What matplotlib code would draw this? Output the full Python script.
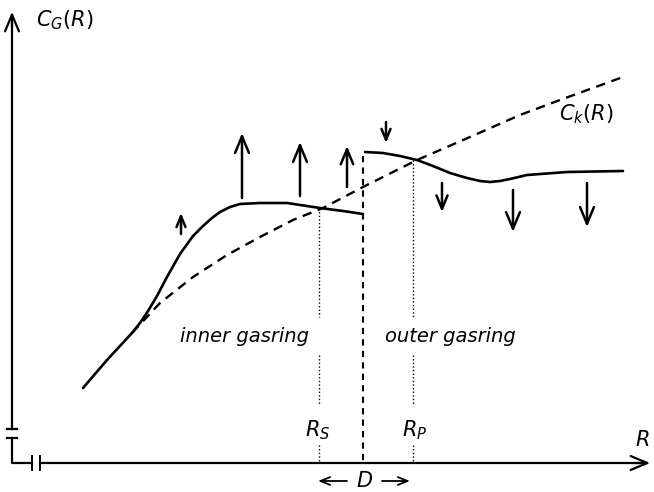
import matplotlib
matplotlib.use("Agg")
from matplotlib import pyplot as plt

plt.rcParams['mathtext.fontset'] = 'dejavusans'

# everything, in pixel units (y grows downwards)
inner_x = [83, 107, 132, 140, 148, 157, 167, 180, 193, 203, 212, 220, 230, 240, 260, 287, 320, 343, 363]
inner_y = [388, 360, 333, 323, 311, 296, 277, 254, 236, 226, 218, 212, 207, 204, 203, 203, 208, 211, 214]

outer_x = [365, 383, 400, 417, 433, 450, 467, 480, 490, 500, 510, 527, 567, 623]
outer_y = [152, 153, 156, 160, 166, 173, 178, 181, 182, 181, 179, 175, 172, 171]

ck_x = [132, 160, 193, 227, 260, 293, 323, 363, 417, 470, 520, 560, 623]
ck_y = [333, 303, 277, 255, 237, 220, 208, 187, 160, 137, 115, 100, 77]

# arrows: x position, tail, tip, size
arrow_x = [181, 242, 300, 347, 386, 442, 513, 587]
arrow_tail = [234, 198, 196, 187, 122, 183, 190, 183]
arrow_tip = [213, 133, 142, 146, 143, 212, 232, 227]
arrow_size = [13, 20, 20, 18, 13, 16, 20, 20]

r_s = 319
r_p = 413
gap_x = 363
x_axis_y = 463
y_axis_x = 12

fig = plt.figure(figsize=(6.54, 4.92), dpi=100)
ax = fig.add_axes([0, 0, 1, 1])
ax.set_xlim(0, 654)
ax.set_ylim(492, 0)
ax.axis('off')

head = '->, head_length=0.6, head_width=0.25'

# axes with breaks
ax.plot([y_axis_x, y_axis_x], [429, 22], color='k', lw=1.6)
ax.annotate('', xy=(y_axis_x, 9), xytext=(y_axis_x, 30),
            arrowprops=dict(arrowstyle=head, lw=1.6, color='k', mutation_scale=20))
ax.plot([7, 17], [429, 429], color='k', lw=1.6)
ax.plot([7, 17], [438, 438], color='k', lw=1.6)
ax.plot([y_axis_x, y_axis_x, 32], [438, x_axis_y, x_axis_y], color='k', lw=1.6)
ax.plot([32, 32], [456, 470], color='k', lw=1.4)
ax.plot([40, 40], [456, 470], color='k', lw=1.4)
ax.plot([40, 640], [x_axis_y, x_axis_y], color='k', lw=1.6)
ax.annotate('', xy=(653, x_axis_y), xytext=(630, x_axis_y),
            arrowprops=dict(arrowstyle=head, lw=1.6, color='k', mutation_scale=20))

# curves
ax.plot(inner_x, inner_y, color='k', lw=1.9, solid_capstyle='round', solid_joinstyle='round')
ax.plot(outer_x, outer_y, color='k', lw=1.9, solid_capstyle='round', solid_joinstyle='round')
ax.plot(ck_x, ck_y, color='k', lw=1.7, dashes=(4, 2.8))
ax.plot([gap_x, gap_x], [outer_y[0] + 4, x_axis_y], color='k', lw=1.5, dashes=(3, 2.5))

# dotted markers for R_s and R_p
for xv, ytop in [(r_s, 208), (r_p, 160)]:
    ax.plot([xv, xv], [ytop, 317], color='k', lw=1.0, ls=(0, (1, 1.6)))
    ax.plot([xv, xv], [355, 405], color='k', lw=1.0, ls=(0, (1, 1.6)))
    ax.plot([xv, xv], [445, x_axis_y], color='k', lw=1.0, ls=(0, (1, 1.6)))

for xa, t0, t1, s in zip(arrow_x, arrow_tail, arrow_tip, arrow_size):
    ax.annotate('', xy=(xa, t1), xytext=(xa, t0),
                arrowprops=dict(arrowstyle=head, lw=1.8, color='k',
                                mutation_scale=s, shrinkA=0, shrinkB=0))

# D with arrows below the axis
ax.annotate('', xy=(318, 481), xytext=(347, 481),
            arrowprops=dict(arrowstyle='->, head_length=0.5, head_width=0.2', lw=1.3, color='k', mutation_scale=14, shrinkA=0, shrinkB=0))
ax.annotate('', xy=(410, 481), xytext=(382, 481),
            arrowprops=dict(arrowstyle='->, head_length=0.5, head_width=0.2', lw=1.3, color='k', mutation_scale=14, shrinkA=0, shrinkB=0))

# labels
ax.text(36, 20, r'$C_G(R)$', fontsize=15, ha='left', va='center')
ax.text(559, 114, r'$C_k(R)$', fontsize=15, ha='left', va='center')
ax.text(642, 440, r'$R$', fontsize=15, ha='center', va='center')
ax.text(318, 430, r'$R_S$', fontsize=15, ha='center', va='center')
ax.text(415, 430, r'$R_P$', fontsize=15, ha='center', va='center')
ax.text(365, 481, r'$D$', fontsize=15, ha='center', va='center')
ax.text(245, 336, 'inner gasring', fontsize=14, style='italic', ha='center', va='center')
ax.text(450, 336, 'outer gasring', fontsize=14, style='italic', ha='center', va='center')

fig.savefig('out.png', dpi=100)
